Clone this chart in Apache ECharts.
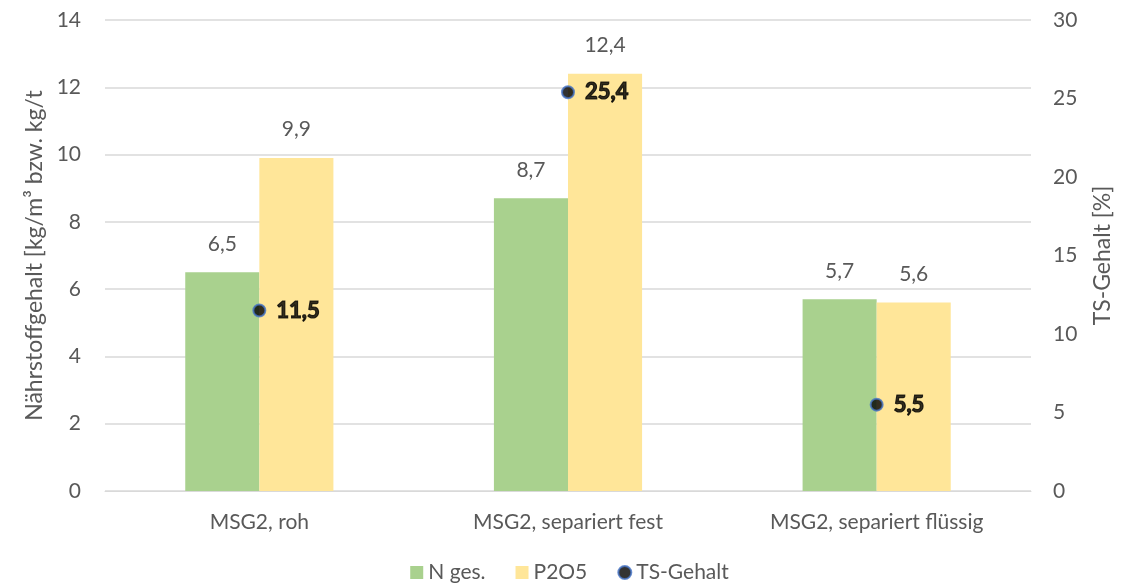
<!DOCTYPE html>
<html>
<head>
<meta charset="utf-8">
<script src="https://cdn.jsdelivr.net/npm/echarts@6/dist/echarts.min.js"></script>
<style>
  html, body { margin: 0; padding: 0; background: #fff; }
  #chart { width: 1139px; height: 588px; }
</style>
</head>
<body>
<div id="chart"></div>
<script>
// Daten
const categories = ['MSG2, roh', 'MSG2, separiert fest', 'MSG2, separiert flüssig']
const nGes = [6.5, 8.7, 5.7]
const p2o5 = [9.9, 12.4, 5.6]
const tsGehalt = [11.5, 25.4, 5.5]

const fontFam = 'Lato, "Open Sans", sans-serif'
const grey = '#595959'
const comma = v => String(v).replace('.', ',')

const chart = echarts.init(document.getElementById('chart'))
chart.setOption({
  animation: false,
  textStyle: { fontFamily: fontFam },
  grid: { left: 105, right: 108, top: 20, bottom: 97 },
  legend: {
    bottom: 0,
    left: 'center',
    itemWidth: 13,
    itemHeight: 13,
    itemGap: 30,
    textStyle: { color: grey, fontSize: 21, fontFamily: fontFam },
    data: [
      { name: 'N ges.', icon: 'rect' },
      { name: 'P2O5', icon: 'rect' },
      { name: 'TS-Gehalt', icon: 'circle', itemStyle: { color: '#000', borderColor: '#4472C4', borderWidth: 2 } }
    ]
  },
  xAxis: {
    type: 'category',
    data: categories,
    axisTick: { show: false },
    axisLine: { lineStyle: { color: '#d9d9d9' } },
    axisLabel: { color: grey, fontSize: 21, margin: 21 }
  },
  yAxis: [
    {
      type: 'value', min: 0, max: 14, interval: 2,
      name: 'Nährstoffgehalt [kg/m³ bzw. kg/t',
      nameLocation: 'middle', nameGap: 56, nameRotate: 90,
      nameTextStyle: { color: grey, fontSize: 23 },
      axisLabel: { color: grey, fontSize: 21, margin: 24 },
      splitLine: { lineStyle: { color: '#d9d9d9', width: 1.5 } }
    },
    {
      type: 'value', min: 0, max: 30, interval: 5,
      name: 'TS-Gehalt [%]',
      nameLocation: 'middle', nameGap: 60, nameRotate: 90,
      nameTextStyle: { color: grey, fontSize: 23 },
      axisLabel: { color: grey, fontSize: 21, margin: 22 },
      splitLine: { show: false }
    }
  ],
  series: [
    {
      name: 'N ges.', type: 'bar', data: nGes,
      barGap: 0, barCategoryGap: '52%',
      itemStyle: { color: '#A9D18E' },
      label: { show: true, position: 'top', distance: 18, color: grey, fontSize: 21, formatter: p => comma(p.value) }
    },
    {
      name: 'P2O5', type: 'bar', data: p2o5,
      itemStyle: { color: '#FFE699' },
      label: { show: true, position: 'top', distance: 18, color: grey, fontSize: 21, formatter: p => comma(p.value) }
    },
    {
      name: 'TS-Gehalt', type: 'scatter', yAxisIndex: 1, data: tsGehalt,
      symbolSize: 12,
      itemStyle: { color: '#000', borderColor: '#4472C4', borderWidth: 2 },
      label: {
        show: true, position: 'right', distance: 10,
        color: '#000', fontSize: 22, fontWeight: 'bold',
        textBorderColor: '#000', textBorderWidth: 1.2,
        formatter: p => comma(p.value)
      },
      z: 5
    }
  ]
})
</script>
</body>
</html>
